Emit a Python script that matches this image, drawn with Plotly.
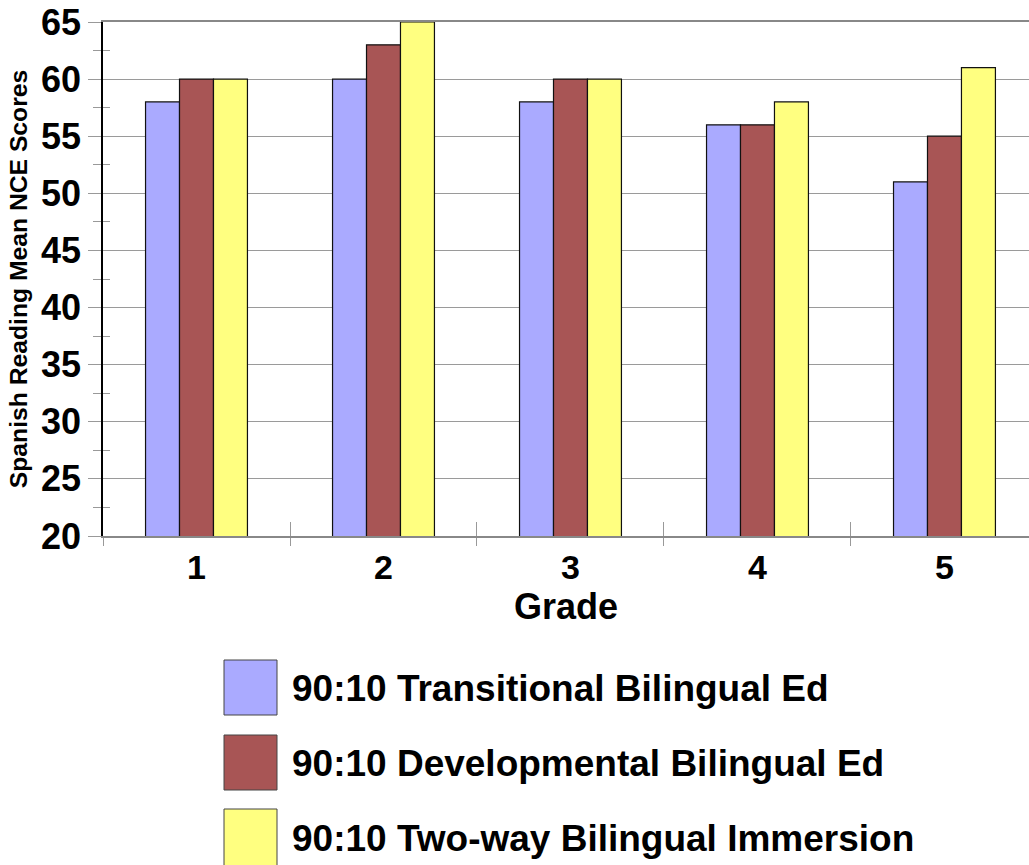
import plotly.graph_objects as go

grades = ["1", "2", "3", "4", "5"]
series_names = [
    "90:10 Transitional Bilingual Ed",
    "90:10 Developmental Bilingual Ed",
    "90:10 Two-way Bilingual Immersion",
]
transitional = [58, 60, 58, 56, 51]
developmental = [60, 63, 60, 56, 55]
two_way = [60, 65, 60, 58, 61]
colors = ["#AAAAFF", "#A85555", "#FFFF80"]

W, H = 1029, 865
L, T, B = 103, 22, 536  # plot area in page pixels
FONT = "Liberation Sans, Arial, sans-serif"

fig = go.Figure()
for name, vals, col in zip(series_names, [transitional, developmental, two_way], colors):
    fig.add_trace(go.Bar(
        x=grades, y=vals, name=name,
        marker=dict(color=col, line=dict(color="#111111", width=1.2)),
        showlegend=False,
    ))

# overlay axes for inside-crossing ticks
fig.add_trace(go.Scatter(x=[], y=[], xaxis="x2", yaxis="y2", showlegend=False))

Y_RANGE = [20, 65]
fig.update_layout(
    width=W, height=H,
    margin=dict(l=L, r=0, t=T, b=H - B, pad=0),
    paper_bgcolor="white", plot_bgcolor="white",
    barmode="group", bargap=0.455, bargroupgap=0,
    font=dict(family=FONT, color="black"),
    xaxis=dict(
        type="category", range=[-0.5, 4.452],
        showline=True, mirror=True, linecolor="#888888", linewidth=1.5,
        ticks="outside", tickson="boundaries", ticklen=8, tickcolor="#999999", tickwidth=1,
        tickfont=dict(size=34, family=FONT, weight="bold"),
        title=dict(text="Grade", font=dict(size=36, family=FONT, weight="bold"), standoff=6),
        showgrid=False, zeroline=False,
    ),
    yaxis=dict(
        range=Y_RANGE, dtick=5, tick0=20,
        showline=True, linecolor="black", linewidth=1.5,
        ticks="outside", ticklen=13, tickcolor="#999999", tickwidth=1,
        tickfont=dict(size=36, family=FONT, weight="bold"),
        showgrid=True, gridcolor="#9a9a9a", gridwidth=1,
        zeroline=False,
        minor=dict(ticks="outside", ticklen=8, tickcolor="#999999", dtick=5, tick0=22.5, showgrid=False),
        title=dict(text="Spanish Reading Mean NCE Scores", font=dict(size=24.7, family=FONT, weight="bold"), standoff=6),
    ),
    xaxis2=dict(
        overlaying="x", range=[-0.5, 4.452], tick0=-0.5, dtick=1,
        ticks="inside", ticklen=14, tickcolor="#999999", tickwidth=1,
        showticklabels=False, showgrid=False, zeroline=False, showline=False,
    ),
    yaxis2=dict(
        overlaying="y", range=Y_RANGE, tick0=22.5, dtick=5,
        ticks="inside", ticklen=7, tickcolor="#999999", tickwidth=1,
        showticklabels=False, showgrid=False, zeroline=False, showline=False,
    ),
)

# custom legend with large swatches (pixels -> paper coords)
PW, PH = W - L, B - T
def px_x(p):
    return (p - L) / PW
def px_y(p):
    return (B - p) / PH

sw_x0, sw_x1 = 224, 277
rows = [(660, 715), (735, 790), (809, 866)]
text_x = 290
for (y0, y1), name, col in zip(rows, series_names, colors):
    fig.add_shape(type="rect", xref="paper", yref="paper",
                  x0=px_x(sw_x0), x1=px_x(sw_x1), y0=px_y(y1), y1=px_y(y0),
                  fillcolor=col, line=dict(color="#444444", width=1))
    fig.add_annotation(xref="paper", yref="paper", x=px_x(text_x), y=px_y((y0 + y1) / 2 + 1),
                       text=name, showarrow=False, xanchor="left", yanchor="middle",
                       font=dict(size=37, family=FONT, weight="bold", color="black"))

fig.write_html(
    "out.html",
    config={"displayModeBar": False},
    post_script="document.body.style.margin='0';document.body.style.overflow='hidden';",
)
